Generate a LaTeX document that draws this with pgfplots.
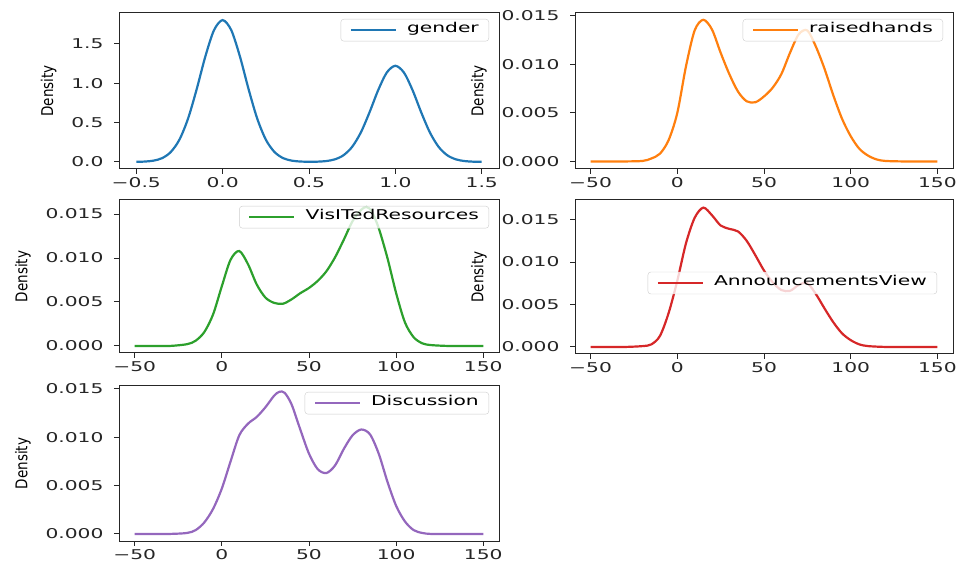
\documentclass[border=0pt]{standalone}
\usepackage{fontspec}
\setmainfont{DejaVu Sans}[FakeStretch=1.5]
\newfontfamily\plainfont{DejaVu Sans}
\usepackage{pgfplots}
\pgfplotsset{compat=1.18}

\definecolor{c0}{HTML}{1F77B4}
\definecolor{c1}{HTML}{FF7F0E}
\definecolor{c2}{HTML}{2CA02C}
\definecolor{c3}{HTML}{D62728}
\definecolor{c4}{HTML}{9467BD}

\pgfplotsset{
  kde/.style={
    scale only axis, anchor=south west,
    axis line style={black!85, line width=1bp},
    tick align=outside, major tick length=5bp,
    every tick/.style={black!85, line width=1bp},
    xtick pos=bottom, ytick pos=left,
    scaled ticks=false,
    ticklabel style={text=black!85},
    yticklabel style={xshift=-7bp},
    ylabel={{\plainfont\scalebox{1}[1.2]{Density}}},
    ylabel style={text=black},
    ylabel shift=8bp,
    legend cell align=left,
    legend image code/.code={\draw[##1] (0bp,0bp) -- (45bp,0bp);},
    legend style={at={(1,1)}, anchor=north east, xshift=-10bp, yshift=-6bp,
      draw=black!20, rounded corners=3bp, fill=white, fill opacity=0.8,
      text opacity=1, inner xsep=9bp, inner ysep=5bp,
      nodes={inner sep=1bp, text height=0.76em, text depth=0.24em},
      /tikz/every odd column/.append style={column sep=9bp}},
  },
  bigx/.style={xmin=-59, xmax=159, xtick={-50,0,50,100,150},
    xticklabels={−50,0,50,100,150}},
  dens/.style={ytick={0,0.005,0.01,0.015},
    yticklabels={0.000,0.005,0.010,0.015}},
  curve/.style={#1, line width=2.2bp, smooth},
}

\begin{document}
\begin{tikzpicture}[font=\fontsize{13.5bp}{16bp}\selectfont]
\useasboundingbox (0bp,0bp) rectangle (960bp,563bp);

% gender
\begin{axis}[kde, at={(119bp,394bp)}, width=380bp, height=156bp,
  xmin=-0.6, xmax=1.6, ymin=-0.09, ymax=1.89,
  xtick={-0.5,0,0.5,1,1.5}, xticklabels={−0.5,0.0,0.5,1.0,1.5},
  ytick={0,0.5,1,1.5}, yticklabels={0.0,0.5,1.0,1.5}]
\addplot[curve=c0] coordinates {
  (-0.5,0.001) (-0.45,0.0045) (-0.4,0.016) (-0.35,0.048) (-0.3,0.126)
  (-0.25,0.283) (-0.2,0.551) (-0.15,0.925) (-0.1,1.339) (-0.05,1.672)
  (0,1.800) (0.05,1.672) (0.1,1.339) (0.15,0.925) (0.2,0.551)
  (0.25,0.283) (0.3,0.126) (0.35,0.048) (0.4,0.016) (0.45,0.0047)
  (0.5,0.002) (0.55,0.0032) (0.6,0.0107) (0.65,0.0326) (0.7,0.085)
  (0.75,0.192) (0.8,0.373) (0.85,0.627) (0.9,0.908) (0.95,1.133)
  (1,1.220) (1.05,1.133) (1.1,0.908) (1.15,0.627) (1.2,0.373)
  (1.25,0.192) (1.3,0.085) (1.35,0.0326) (1.4,0.0107) (1.45,0.003)
  (1.5,0.0007)};
\legend{gender}
\end{axis}

% raisedhands
\begin{axis}[kde, bigx, dens, at={(575bp,394bp)}, width=378bp, height=156bp,
  ymin=-0.00078, ymax=0.0153]
\addplot[curve=c1] coordinates {
  (-50,0) (-40,0) (-30,0) (-20,0.00005) (-15,0.0003) (-10,0.0008)
  (-5,0.0022) (0,0.0050) (5,0.0098) (10,0.0135) (15,0.0146) (20,0.0136)
  (25,0.0112) (30,0.0090) (35,0.0072) (40,0.0062) (45,0.0061) (50,0.0067)
  (55,0.0076) (60,0.0090) (65,0.0112) (70,0.0131) (75,0.0135) (80,0.0118)
  (85,0.0095) (90,0.0068) (95,0.0044) (100,0.0026) (105,0.0013)
  (110,0.0006) (115,0.0002) (120,0.00005) (130,0) (140,0) (150,0)};
\legend{raisedhands}
\end{axis}

% VisITedResources
\begin{axis}[kde, bigx, dens, at={(119bp,210bp)}, width=380bp, height=153bp,
  ymin=-0.0008, ymax=0.0166]
\addplot[curve=c2] coordinates {
  (-50,0) (-40,0) (-30,0) (-20,0.0002) (-15,0.0006) (-10,0.0016)
  (-5,0.0036) (0,0.0068) (5,0.0098) (10,0.0108) (15,0.0093) (20,0.0070)
  (25,0.0055) (30,0.0049) (35,0.0048) (40,0.0053) (45,0.0060) (50,0.0066)
  (55,0.0074) (60,0.0085) (65,0.0101) (70,0.0121) (75,0.0142) (80,0.0155)
  (83,0.0158) (86,0.0153) (90,0.0134) (95,0.0100) (100,0.0060)
  (105,0.0027) (110,0.0010) (115,0.0003) (120,0.0001) (130,0) (140,0)
  (150,0)};
\legend{VisITedResources}
\end{axis}

% AnnouncementsView
\begin{axis}[kde, bigx, dens, at={(575bp,209bp)}, width=378bp, height=154bp,
  ymin=-0.00083, ymax=0.0173,
  legend style={at={(1,0.5)}, anchor=east, xshift=-6bp, yshift=0bp}]
\addplot[curve=c3] coordinates {
  (-50,0) (-40,0) (-30,0) (-20,0.0001) (-15,0.0003) (-10,0.0013)
  (-5,0.0040) (0,0.0078) (5,0.0122) (10,0.0152) (15,0.0164) (20,0.0155)
  (25,0.0143) (30,0.0139) (35,0.0136) (40,0.0125) (45,0.0108) (50,0.0090)
  (55,0.0076) (60,0.0067) (65,0.0066) (70,0.0073) (75,0.0075) (80,0.0062)
  (85,0.0045) (90,0.0029) (95,0.0016) (100,0.0008) (105,0.0003)
  (110,0.0001) (120,0) (130,0) (140,0) (150,0)};
\legend{AnnouncementsView}
\end{axis}

% Discussion
\begin{axis}[kde, bigx, dens, at={(119bp,22bp)}, width=380bp, height=155bp,
  ymin=-0.00073, ymax=0.0153]
\addplot[curve=c4] coordinates {
  (-50,0) (-40,0) (-30,0) (-20,0.0001) (-15,0.0004) (-10,0.0012)
  (-5,0.0026) (0,0.0047) (5,0.0075) (10,0.0102) (15,0.0114) (20,0.0121)
  (25,0.0131) (30,0.0143) (33,0.0147) (36,0.0146) (40,0.0134) (45,0.0108)
  (50,0.0083) (55,0.0067) (60,0.0063) (65,0.0071) (70,0.0088) (75,0.0102)
  (80,0.0108) (85,0.0103) (90,0.0083) (95,0.0054) (100,0.0029)
  (105,0.0013) (110,0.0004) (115,0.0001) (120,0) (130,0) (140,0) (150,0)};
\legend{Discussion}
\end{axis}
\end{tikzpicture}
\end{document}
